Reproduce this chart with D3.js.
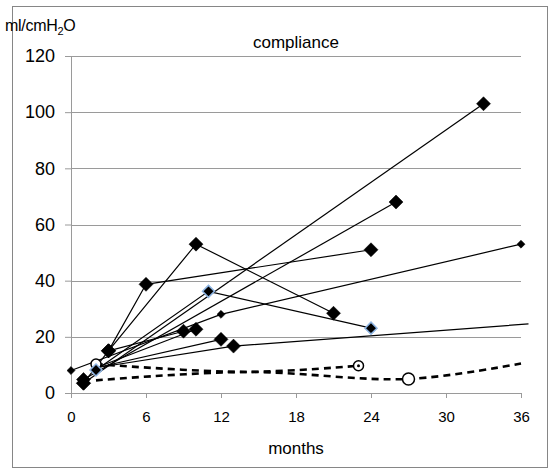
<!DOCTYPE html>
<html>
<head>
<meta charset="utf-8">
<script src="https://cdn.jsdelivr.net/npm/d3@7"></script>
<style>
  body { margin: 0; background: #fff; }
  svg { font-family: "Liberation Sans", Arial, sans-serif; }
</style>
</head>
<body>
<svg width="556" height="470"></svg>
<script>
// axis ticks
const xTicks = [0, 6, 12, 18, 24, 30, 36]
const yTicks = [0, 20, 40, 60, 80, 100, 120]

// each patient: [month, compliance]
const patA = [[0, 8], [12, 28], [36, 53]]
const patB = [[1, 3.5], [33, 103]]
const patC = [[1, 4.8], [26, 68]]
const patD = [[3, 15], [6, 38.7], [24, 51]]
const patE = [[1, 3.5], [3, 15], [10, 53], [21, 28.4]]
const patF = [[2, 8.2], [11, 36.2], [24, 23.1]]
const patG = [[3, 15], [9, 22]]
const patH = [[2, 9], [10, 22.7]]
const patI = [[2, 9], [12, 19.1]]
const patJ = [[2, 9], [13, 16.7], [36.6, 24.6]]
// dashed (smoothed) series
const dashUpper = [[2, 10.3], [14, 7.5], [23, 9.7]]
const dashLower = [[2, 4.5], [14, 7.5], [27, 5], [36, 10.5]]

const svg = d3.select("svg")
const x = d3.scaleLinear().domain([0, 36]).range([71, 521])
const y = d3.scaleLinear().domain([0, 120]).range([393, 56])

// outer frame
svg.append("rect")
    .attr("x", 12.5).attr("y", 6.5)
    .attr("width", 535).attr("height", 461)
    .attr("fill", "#fff").attr("stroke", "#868686").attr("stroke-width", 1)

// gridlines
svg.append("g").selectAll("line")
    .data(yTicks.filter(d => d > 0))
    .join("line")
    .attr("x1", x(0)).attr("x2", x(36))
    .attr("y1", d => Math.round(y(d)) + 0.5).attr("y2", d => Math.round(y(d)) + 0.5)
    .attr("stroke", "#9a9a9a").attr("stroke-width", 1)

// y axis
const yAxis = svg.append("g")
    .attr("transform", `translate(${x(0)},0)`)
    .call(d3.axisLeft(y).tickValues(yTicks).tickSize(6).tickPadding(10))
yAxis.select(".domain").attr("stroke", "#9a9a9a")
yAxis.selectAll(".tick line").attr("stroke", "#9a9a9a")
yAxis.selectAll("text").attr("font-size", 18).attr("fill", "#000")
    .attr("font-family", "Liberation Sans, Arial, sans-serif")

// x axis
const xAxis = svg.append("g")
    .attr("transform", `translate(0,${y(0)})`)
    .call(d3.axisBottom(x).tickValues(xTicks).tickSize(5).tickPadding(13))
xAxis.select(".domain").attr("stroke", "#9a9a9a")
xAxis.selectAll(".tick line").attr("stroke", "#9a9a9a")
xAxis.selectAll("text").attr("font-size", 15).attr("fill", "#000")
    .attr("font-family", "Liberation Sans, Arial, sans-serif")

// texts
const unit = svg.append("text").attr("x", 5).attr("y", 31).attr("font-size", 16)
    .attr("letter-spacing", -0.3)
unit.append("tspan").text("ml/cmH")
unit.append("tspan").attr("font-size", 11).attr("dy", 4).text("2")
unit.append("tspan").attr("dy", -4).text("O")
svg.append("text").attr("x", 296).attr("y", 48).attr("text-anchor", "middle")
    .attr("font-size", 17).text("compliance")
svg.append("text").attr("x", 296).attr("y", 454).attr("text-anchor", "middle")
    .attr("font-size", 17).text("months")

const line = d3.line().x(d => x(d[0])).y(d => y(d[1]))
const smooth = d3.line().x(d => x(d[0])).y(d => y(d[1])).curve(d3.curveCatmullRom.alpha(0.5))

const solids = [patA, patB, patC, patD, patE, patF, patG, patH, patI, patJ]
svg.append("g").selectAll("path")
    .data(solids)
    .join("path")
    .attr("d", line)
    .attr("fill", "none").attr("stroke", "#000").attr("stroke-width", 1.2)

svg.append("g").selectAll("path")
    .data([dashUpper, dashLower])
    .join("path")
    .attr("d", smooth)
    .attr("fill", "none").attr("stroke", "#000").attr("stroke-width", 2.6)
    .attr("stroke-dasharray", "7,5")

const diamond = (size) => d3.symbol(d3.symbolSquare, size * size / 2)()

function markers(pts, size, stroke, sw) {
    svg.append("g").selectAll("path")
        .data(pts)
        .join("path")
        .attr("d", diamond(size))
        .attr("transform", d => `translate(${x(d[0])},${y(d[1])}) rotate(45)`)
        .attr("fill", "#000").attr("stroke", stroke).attr("stroke-width", sw)
}

// circle markers on the dashed series
svg.append("circle").attr("cx", x(dashUpper[0][0])).attr("cy", y(dashUpper[0][1]))
    .attr("r", 5).attr("fill", "#fff").attr("stroke", "#000").attr("stroke-width", 1.5)
svg.append("circle").attr("cx", x(dashUpper[2][0])).attr("cy", y(dashUpper[2][1]))
    .attr("r", 5).attr("fill", "#fff").attr("stroke", "#000").attr("stroke-width", 1.5)
svg.append("circle").attr("cx", x(dashUpper[2][0])).attr("cy", y(dashUpper[2][1]))
    .attr("r", 1.5).attr("fill", "#000")
svg.append("circle").attr("cx", x(dashLower[2][0])).attr("cy", y(dashLower[2][1]))
    .attr("r", 6).attr("fill", "#fff").attr("stroke", "#000").attr("stroke-width", 1.5)

// diamonds (last point of patJ has no marker)
markers(patB, 14, "#000", 0.5)
markers(patC, 14, "#000", 0.5)
markers(patD, 14, "#000", 0.5)
markers(patE, 14, "#000", 0.5)
markers(patG, 14, "#000", 0.5)
markers(patH.slice(1), 14, "#000", 0.5)
markers(patI.slice(1), 14, "#000", 0.5)
markers(patJ.slice(1, 2), 14, "#000", 0.5)
markers(patA, 8, "#000", 0.5)
markers(patF, 12, "#8db4e2", 1.5)
</script>
</body>
</html>
